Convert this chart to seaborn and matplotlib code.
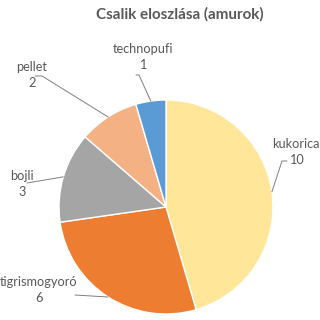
import numpy as np
import matplotlib
matplotlib.use("Agg")
import matplotlib.pyplot as plt
import seaborn as sns

categories = ["kukorica", "tigrismogyoró", "bojli", "pellet", "technopufi"]
values = [10, 6, 3, 2, 1]
colors = ["#FFE699", "#ED7D31", "#A5A5A5", "#F4B183", "#5B9BD5"]
title = "Csalik eloszlása (amurok)"

# label layout (pixel coords, y downward): text centre, elbow point, line end
label_pos = [(296, 152), (39, 290), (22, 184), (32, 75), (143, 57)]
elbow = [(282, 161), (75, 295), (27, 183), (42, 76), (139, 75)]
hook = [(287, 161), (75, 295), (27, 183), (35, 76), (136, 75)]

sns.set_theme(style="white")
plt.rcParams["font.family"] = ["Lato", "DejaVu Sans"]

W = H = 320
fig = plt.figure(figsize=(3.2, 3.2), dpi=100)
ax = fig.add_axes([0, 0, 1, 1])
ax.set_xlim(0, W)
ax.set_ylim(0, H)
ax.set_aspect("equal")
ax.axis("off")

cx, cy, r = 166, H - 207, 107
wedges, _ = ax.pie(values, colors=colors, startangle=90, counterclock=False,
                   center=(cx, cy), radius=r,
                   wedgeprops=dict(edgecolor="white", linewidth=1))
ax.set_xlim(0, W)
ax.set_ylim(0, H)

txt_col = "#595959"
line_col = "#7f7f7f"
for w, cat, val, lp, el, hk in zip(wedges, categories, values, label_pos, elbow, hook):
    ang = np.deg2rad((w.theta1 + w.theta2) / 2)
    ex = cx + r * np.cos(ang)
    ey = cy + r * np.sin(ang)
    ax.plot([ex, el[0], hk[0]], [ey, H - el[1], H - hk[1]], color=line_col, lw=0.7)
    ax.text(lp[0], H - lp[1], f"{cat}\n{val}", ha="center", va="center",
            fontsize=9.2, color=txt_col, linespacing=1.35)

ax.text(180, H - 14, title, ha="center", va="center", fontsize=10.9,
        fontweight="bold", color=txt_col)

fig.savefig("out.png", dpi=100, facecolor="white")
